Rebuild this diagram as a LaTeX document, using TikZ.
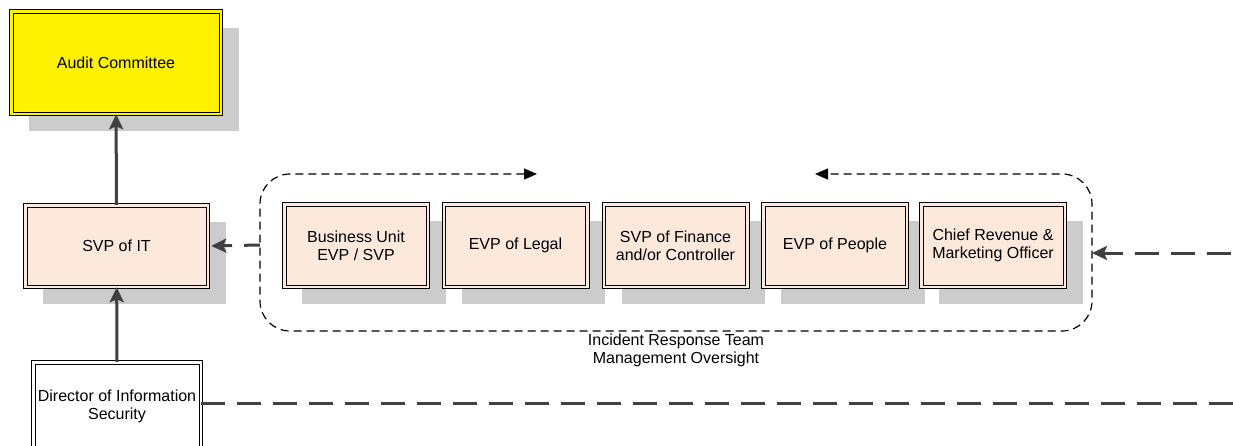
\documentclass[tikz,border=0pt]{standalone}
\usepackage{fontspec}
\setmainfont{Liberation Sans}
\usetikzlibrary{arrows.meta,shadows}
\definecolor{pele}{HTML}{FCE9DC}
\definecolor{cinza}{HTML}{404040}
\definecolor{sombra}{HTML}{CCCCCC}
\begin{document}
\begin{tikzpicture}[x=1pt,y=-1pt,
  cargo/.style={draw=black,line width=1pt,double=pele,double distance=2.5pt,fill=pele,
    align=center,inner sep=0pt,font=\fontsize{16pt}{18pt}\selectfont},
  sombreado/.style={drop shadow={shadow xshift=18pt,shadow yshift=-17pt,fill=sombra,opacity=1}},
  linha/.style={minimum width=143.5pt,minimum height=82.5pt},
  seta/.style={cinza,line width=3pt,-{Stealth[length=15pt,width=14pt,inset=3pt]}},
  tracejada/.style={seta,dash pattern=on 24pt off 12pt}]
  \useasboundingbox (0,0) rectangle (1233,445);
  %caixas da esquerda
  \node[cargo,sombreado,fill=yellow,double=yellow,minimum width=209.5pt,minimum height=102.5pt] (audit) at (116,62.5) {Audit Committee};
  \node[cargo,sombreado,minimum width=182.5pt,minimum height=81.5pt] (svp) at (116.5,246) {SVP of IT};
  \node[cargo,fill=white,double=white,minimum width=167.5pt,minimum height=87.5pt] (dir) at (117,406) {Director of Information\\Security};
  %equipe
  \node[cargo,sombreado,linha] (bu) at (356,245.5) {Business Unit\\EVP / SVP};
  \node[cargo,sombreado,linha] (legal) at (515.5,245.5) {EVP of Legal};
  \node[cargo,sombreado,linha] (fin) at (675.5,245.5) {SVP of Finance\\and/or Controller};
  \node[cargo,sombreado,linha] (people) at (835,245.5) {EVP of People};
  \node[cargo,sombreado,linha] (cro) at (993,245.5) {Chief Revenue \&\\Marketing Officer};
  %contorno da equipe
  \coordinate (t1) at (537,174);
  \coordinate (t2) at (815,174);
  \coordinate (e1) at (260,245);
  \coordinate (e2) at (1092,253);
  \draw[line width=1.2pt,dash pattern=on 8pt off 5pt,rounded corners=30pt,
    {Triangle[length=13pt,width=11pt]}-{Triangle[length=13pt,width=11pt]}]
    (t1) -- (260,174) -- (260,331) -- (1092,331) -- (1092,174) -- (t2);
  \node[font=\fontsize{16pt}{18pt}\selectfont,align=center] (rotulo) at (676,350) {Incident Response Team\\Management Oversight};
  %setas
  \draw[seta] (svp) -- (audit);
  \draw[seta] (dir.north) -- (svp);
  \draw[seta,dash pattern=on 16pt off 12pt,shorten >=3pt] (e1) -- (svp.east);
  \coordinate (d1) at (1235,403);
  \coordinate (d2) at (1235,253);
  \draw[tracejada] (dir.east |- d1) -- (d1) -- (d2) -- (e2);
\end{tikzpicture}
\end{document}
